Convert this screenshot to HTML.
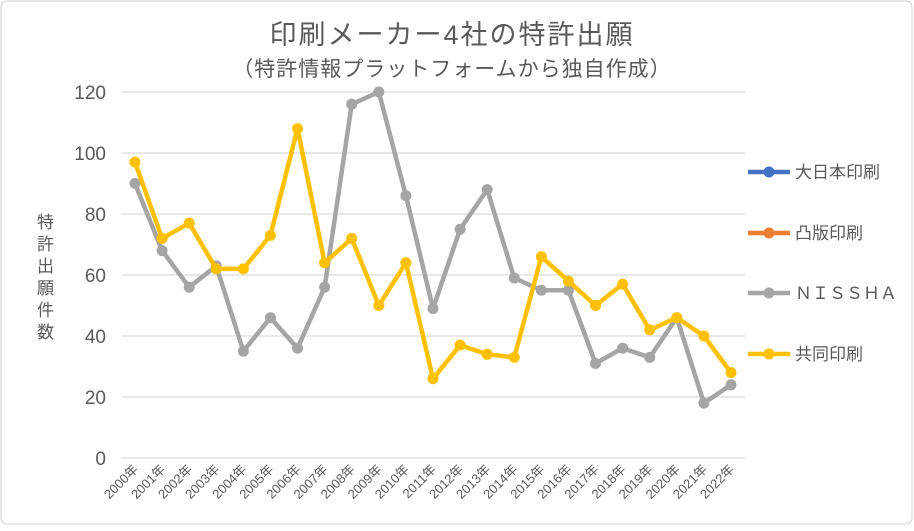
<!DOCTYPE html>
<html><head><meta charset="utf-8"><style>
body{margin:0;background:#fff;}
svg text{font-family:"Liberation Sans","Noto Sans CJK JP",sans-serif;}
</style></head><body>
<svg width="914" height="526" xmlns="http://www.w3.org/2000/svg">
<rect x="1" y="1" width="911" height="523" rx="6" fill="#fff" stroke="#d0d0d0"/>
<text x="452" y="44" font-size="27" letter-spacing="2" fill="#595959" text-anchor="middle">印刷メーカー4社の特許出願</text>
<text x="452" y="76" font-size="21" letter-spacing="1" fill="#595959" text-anchor="middle">（特許情報プラットフォームから独自作成）</text>
<g id="grid"></g><g id="ylab"></g><g id="xlab"></g><g id="series"></g><g id="legend"></g>
<text font-size="17" fill="#595959">
<tspan x="37" y="228">特</tspan><tspan x="37" y="250">許</tspan><tspan x="37" y="272">出</tspan><tspan x="37" y="294">願</tspan><tspan x="37" y="316">件</tspan><tspan x="37" y="338">数</tspan></text>
</svg>
<script>
const categories=["2000年","2001年","2002年","2003年","2004年","2005年","2006年","2007年","2008年","2009年","2010年","2011年","2012年","2013年","2014年","2015年","2016年","2017年","2018年","2019年","2020年","2021年","2022年"];
const nissha=[90,68,56,63,35,46,36,56,116,120,86,49,75,88,59,55,55,31,36,33,46,18,24];
const kyodo=[97,72,77,62,62,73,108,64,72,50,64,26,37,34,33,66,58,50,57,42,46,40,28];
const yTicks=[0,20,40,60,80,100,120];
const legendNames=["大日本印刷","凸版印刷","ＮＩＳＳＨＡ","共同印刷"];
const legendColors=["#4472c4","#ed7d31","#a5a5a5","#ffc000"];
const NS="http://www.w3.org/2000/svg";
const x=i=>135+i*(731-135)/(categories.length-1);
const y=v=>458-v*(458-92)/120;
function mk(t,a,p){const e=document.createElementNS(NS,t);for(const k in a)e.setAttribute(k,a[k]);document.getElementById(p).appendChild(e);return e;}
yTicks.forEach(v=>{
 const l=mk('line',{x1:122,x2:745,y1:y(v),y2:y(v),stroke:'#d9d9d9','stroke-width':1.3},'grid');
 
 
 const t=mk('text',{x:106,y:y(v)+7,'font-size':19,fill:'#595959','text-anchor':'end'},'ylab');
 t.textContent=v;
 
 
});
categories.forEach((c,i)=>{
 const t=mk('text',{x:x(i)+4,y:470,'font-size':13,fill:'#595959','text-anchor':'end',transform:`rotate(-45 ${x(i)+4} 470)`},'xlab');
 t.textContent=c;
 
 
});
function series(d,col,name){
 const p=mk('polyline',{points:d.map((v,i)=>x(i)+','+y(v)).join(' '),fill:'none',stroke:col,'stroke-width':4.5,'stroke-linejoin':'round'},'series');
 
 
 d.forEach((v,i)=>{const c=mk('circle',{cx:x(i),cy:y(v),r:5.5,fill:col},'series');
 
 });
}
series(nissha,'#a5a5a5','nissha');
series(kyodo,'#ffc000','kyodo');
const ly=[172,233,293,354];
legendNames.forEach((n,i)=>{
 const l=mk('line',{x1:748,x2:790,y1:ly[i],y2:ly[i],stroke:legendColors[i],'stroke-width':4.5},'legend');
 
 
 const c=mk('circle',{cx:769,cy:ly[i],r:5.5,fill:legendColors[i]},'legend');
 
 
 const t=mk('text',{x:795,y:ly[i]+6,'font-size':17,fill:'#595959'},'legend');
 t.textContent=n;
 
 
});
</script>
</body></html>
